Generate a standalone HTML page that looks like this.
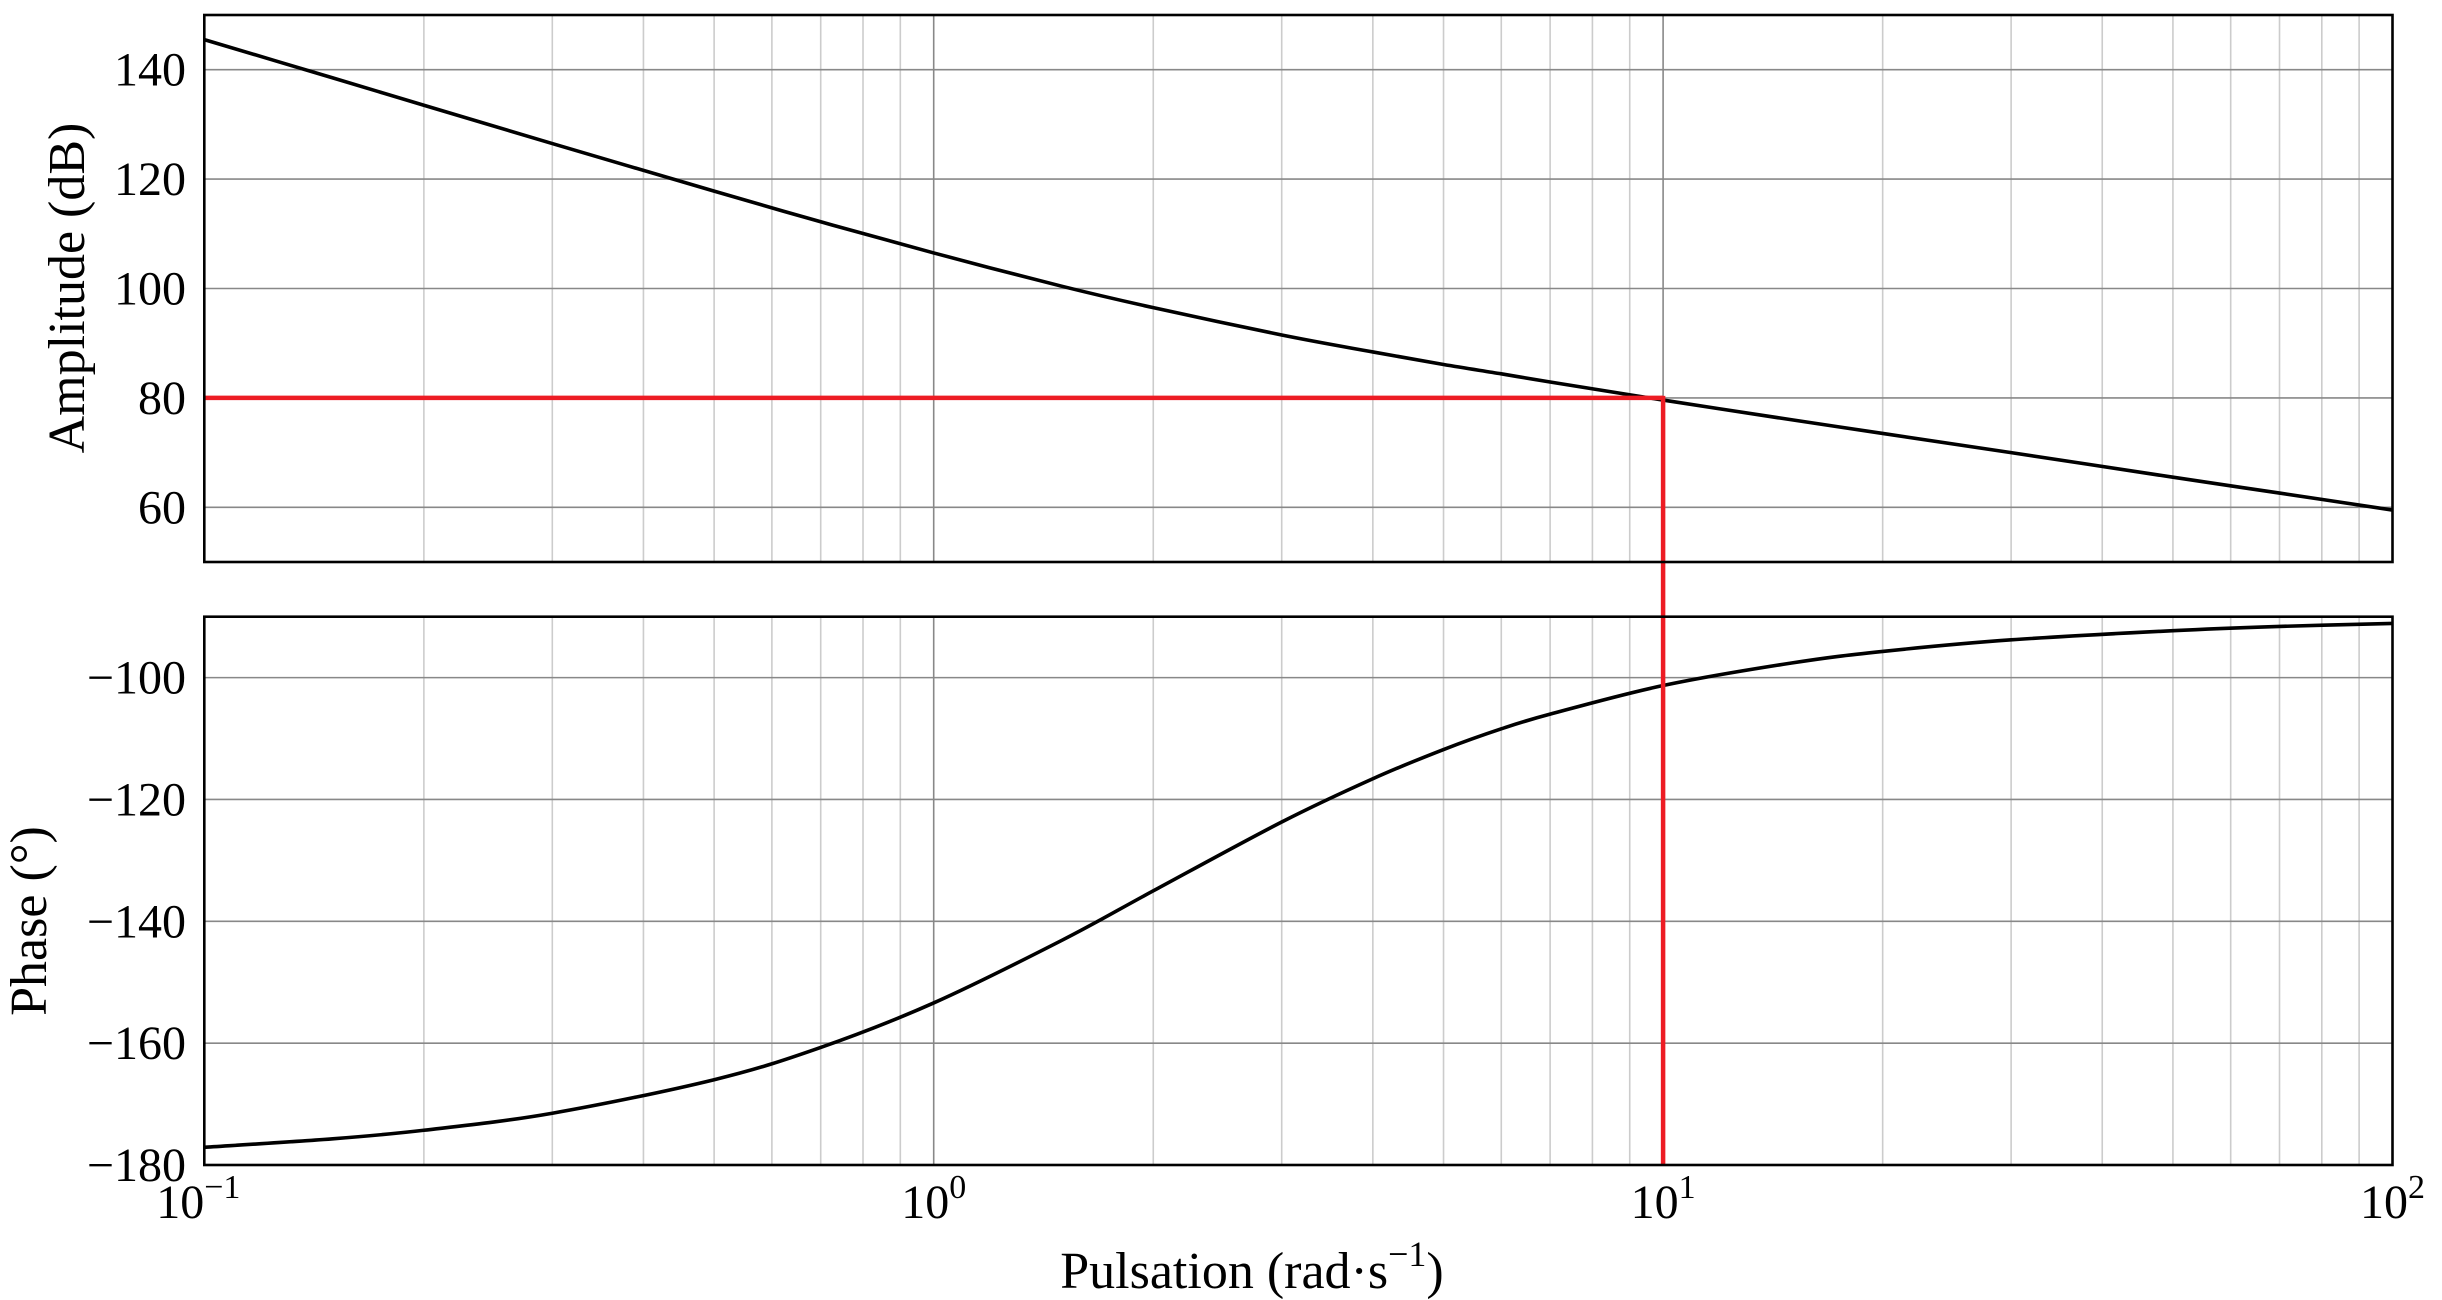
<!DOCTYPE html>
<html><head><meta charset="utf-8"><style>
html,body{margin:0;padding:0;background:#fff;}
svg{display:block;font-family:"Liberation Serif",serif;}
</style></head><body>
<svg id="chart" width="2442" height="1300" viewBox="0 0 2442 1300" xmlns="http://www.w3.org/2000/svg"></svg>
<script>
const freqs = [0.1,0.15,0.2,0.3,0.5,0.7,1,1.5,2,3,4,5,6,7,10,15,20,30,50,70,100];
const amplitudeDb = [145.5,138.5,133.5,126.5,117.8,112.2,106.5,100.4,96.5,91.5,88.4,86.1,84.4,82.9,79.6,76.0,73.5,70.0,65.5,62.6,59.5];
const phaseDeg = [-177.1,-175.7,-174.3,-171.5,-166.0,-160.7,-153.4,-143.1,-135.0,-123.7,-116.6,-111.8,-108.4,-106.0,-101.3,-97.6,-95.7,-93.8,-92.3,-91.6,-91.1];
const ampTicks = [60,80,100,120,140];
const phaseTicks = [-180,-160,-140,-120,-100];
const xDecades = [-1,0,1,2];
const markerFreq = [10];
const markerAmp = [80];

const NS="http://www.w3.org/2000/svg";
const svg=document.getElementById('chart');
const X0=204.3,X1=2392.5;
const A={top:15,bot:562,min:50,max:150};
const P={top:616.7,bot:1165,min:-180,max:-90};
function xs(w){return X0+(Math.log10(w)+1)/3*(X1-X0);}
function ya(v){return A.bot-(v-A.min)/(A.max-A.min)*(A.bot-A.top);}
function yp(v){return P.bot-(v-P.min)/(P.max-P.min)*(P.bot-P.top);}
function mk(tag,attrs,parent){const e=document.createElementNS(NS,tag);for(const k in attrs)e.setAttribute(k,attrs[k]);(parent||svg).appendChild(e);return e;}
function smoothPath(xv,yv){
  const pts=xv.map((x,i)=>[x,yv[i]]);
  let d='M'+pts[0][0]+','+pts[0][1];
  for(let i=0;i<pts.length-1;i++){
    const p0=pts[i-1]||pts[i],p1=pts[i],p2=pts[i+1],p3=pts[i+2]||pts[i+1];
    const c1=[p1[0]+(p2[0]-p0[0])/6,p1[1]+(p2[1]-p0[1])/6];
    const c2=[p2[0]-(p3[0]-p1[0])/6,p2[1]-(p3[1]-p1[1])/6];
    d+=' C'+c1[0]+','+c1[1]+' '+c2[0]+','+c2[1]+' '+p2[0]+','+p2[1];
  }
  return d;
}
function panel(top,bot,yTicks,yfn,name){
  const g=mk('g',{});
  
  
  for(let d=-1;d<2;d++){for(let m=2;m<=9;m++){const x=xs(m*Math.pow(10,d));
    const l=mk('line',{x1:x,x2:x,y1:top,y2:bot,stroke:'#cccccc','stroke-width':1.6},g);
    
    }}
  xDecades.forEach(e=>{const x=xs(Math.pow(10,e));
    const l=mk('line',{x1:x,x2:x,y1:top,y2:bot,stroke:'#888888','stroke-width':1.6},g);
    
    });
  yTicks.forEach(v=>{const y=yfn(v);
    const l=mk('line',{x1:X0,x2:X1,y1:y,y2:y,stroke:'#888888','stroke-width':1.6},g);
    
    
    const t=mk('text',{x:186,y:y+16,'text-anchor':'end','font-size':48,fill:'#000'});
    t.textContent=(v<0?'\u2212'+(-v):String(v));
    
    });
}
panel(A.top,A.bot,ampTicks,ya,'amplitude');
panel(P.top,P.bot,phaseTicks,yp,'phase');

const ampPath=mk('path',{d:smoothPath(freqs.map(xs),amplitudeDb.map(ya)),fill:'none',stroke:'#000','stroke-width':3.6,'stroke-linejoin':'round'});


const phPath=mk('path',{d:smoothPath(freqs.map(xs),phaseDeg.map(yp)),fill:'none',stroke:'#000','stroke-width':3.6,'stroke-linejoin':'round'});



const rh=mk('line',{x1:X0,x2:xs(markerFreq[0]),y1:ya(markerAmp[0]),y2:ya(markerAmp[0]),stroke:'#ed1c24','stroke-width':4.5});


const rv=mk('line',{x1:xs(markerFreq[0]),x2:xs(markerFreq[0]),y1:ya(markerAmp[0])-2,y2:P.bot,stroke:'#ed1c24','stroke-width':4.5});



const f1=mk('rect',{x:X0,y:A.top,width:X1-X0,height:A.bot-A.top,fill:'none',stroke:'#000','stroke-width':2.6});


const f2=mk('rect',{x:X0,y:P.top,width:X1-X0,height:P.bot-P.top,fill:'none',stroke:'#000','stroke-width':2.6});



xDecades.forEach(e=>{const x=xs(Math.pow(10,e));
  const t=mk('text',{x:x+(e<0?-6:0),y:1218,'text-anchor':'middle','font-size':48,fill:'#000'});
  
  
  const b=mk('tspan',{},t);b.textContent='10';
  const s=mk('tspan',{dy:-20,'font-size':34},t);s.textContent=(e<0?'\u2212'+(-e):String(e));
});

const xt=mk('text',{x:1252,y:1288,'text-anchor':'middle','font-size':52,fill:'#000'});


const a1=mk('tspan',{},xt);a1.textContent='Pulsation (rad\u00b7s';
const a2=mk('tspan',{dy:-22,'font-size':36},xt);a2.textContent='\u22121';
const a3=mk('tspan',{dy:22},xt);a3.textContent=')';

const ya1=mk('text',{x:0,y:0,'text-anchor':'middle','font-size':52,fill:'#000',transform:'translate(84,288) rotate(-90)'});
ya1.textContent='Amplitude (dB)';


const ya2=mk('text',{x:0,y:0,'text-anchor':'middle','font-size':52,fill:'#000',transform:'translate(46,921) rotate(-90)'});
ya2.textContent='Phase (\u00b0)';


</script>
</body></html>
